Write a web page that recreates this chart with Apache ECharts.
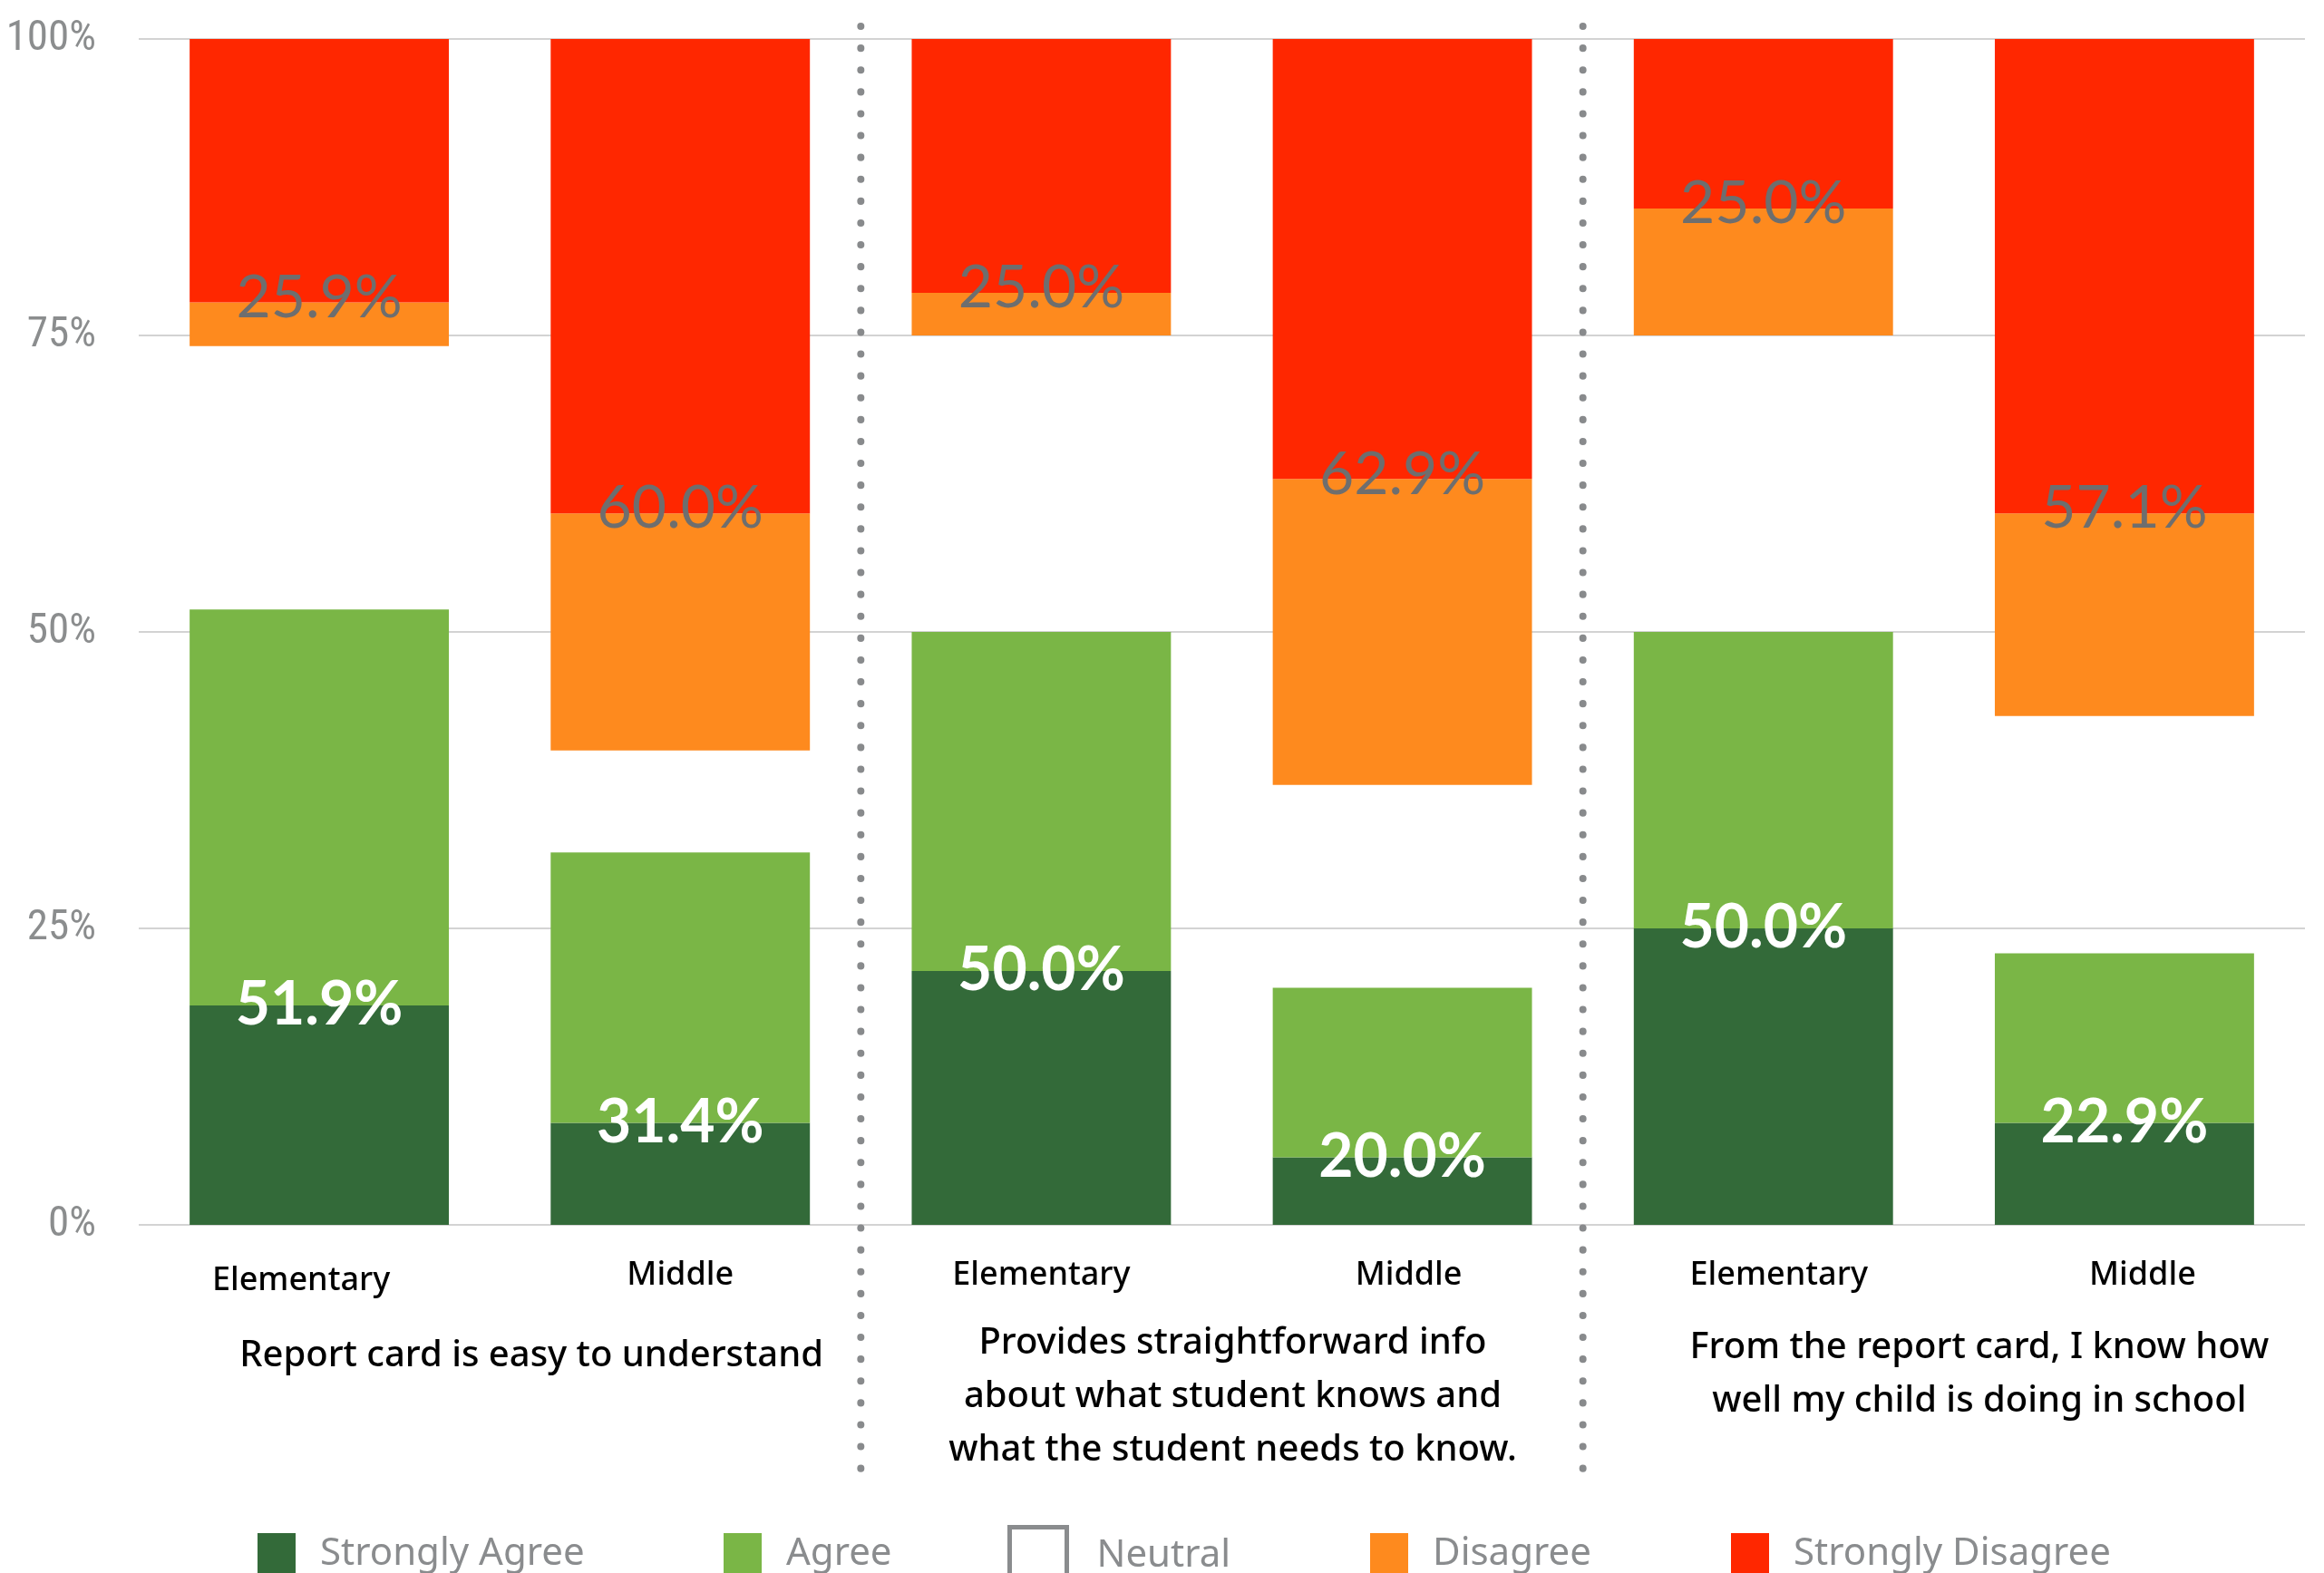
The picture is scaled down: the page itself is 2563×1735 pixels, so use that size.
<!DOCTYPE html>
<html>
<head>
<meta charset="utf-8">
<script src="https://cdn.jsdelivr.net/npm/echarts@6/dist/echarts.min.js"></script>
<style>
html,body{margin:0;padding:0;background:#fff;}
#chart{width:2563px;height:1735px;}
</style>
</head>
<body>
<div id="chart"></div>
<script>
// ---- data ----
var categories = ['Elementary', 'Middle', 'Elementary', 'Middle', 'Elementary', 'Middle'];
var groupTitles = [
  'Report card is easy to understand',
  'Provides straightforward info\nabout what student knows and\nwhat the student needs to know.',
  'From the report card, I know how\nwell my child is doing in school'
];
var seriesNames = ['Strongly Agree', 'Agree', 'Neutral', 'Disagree', 'Strongly Disagree'];
var stronglyAgree    = [18.5,  8.6, 21.4,  5.7, 25.0,  8.6];
var agree            = [33.4, 22.8, 28.6, 14.3, 25.0, 14.3];
var neutral          = [22.2,  8.6, 25.0, 17.1, 25.0, 20.0];
var disagree         = [ 3.7, 20.0,  3.6, 25.8, 10.7, 17.1];
var stronglyDisagree = [22.2, 40.0, 21.4, 37.1, 14.3, 40.0];
var yTicks = [0, 25, 50, 75, 100];

// ---- styles ----
var colors = ['#336a39', '#7ab646', 'rgba(0,0,0,0)', '#fe8a1e', '#ff2700'];
var catLabelPadding = [[6, 40, 0, 0], [0, 0, 0, 0], [0, 0, 0, 0], [0, 0, 0, 14], [0, 0, 0, 34], [0, 0, 0, 40]];
var legendLeft = [279, 793, 1106, 1506, 1904];
var titleShift = [35, 12, 39];
var titleTop = [1466, 1452, 1457];

var chart = echarts.init(document.getElementById('chart'));

function agreeTotal(i) { return (stronglyAgree[i] + agree[i]).toFixed(1) + '%'; }
function disagreeTotal(i) { return (disagree[i] + stronglyDisagree[i]).toFixed(1) + '%'; }

var legends = seriesNames.map(function (name, i) {
  var isNeutral = i === 2;
  return {
    left: legendLeft[i], top: isNeutral ? 1677 : 1686,
    itemWidth: isNeutral ? 63 : 42, itemHeight: isNeutral ? 63 : 46,
    icon: 'rect', selectedMode: false,
    textStyle: { fontFamily: 'Noto Sans', fontSize: 42, color: '#8a8c8e', padding: [0, 0, 0, isNeutral ? 28 : 22] },
    data: [isNeutral
      ? { name: name, itemStyle: { color: '#ffffff', borderColor: '#8a8c8e', borderWidth: 5 } }
      : { name: name }]
  };
});

var option = {
  backgroundColor: '#ffffff',
  animation: false,
  grid: { left: 153, right: 21, top: 43, bottom: 384, containLabel: false, outerBoundsMode: 'none' },
  legend: legends,
  xAxis: {
    type: 'category',
    data: categories.map(function (c, i) { return { value: c, textStyle: { padding: catLabelPadding[i] } }; }),
    axisLine: { show: false },
    axisTick: { show: false },
    axisLabel: { margin: 38, fontFamily: 'Noto Sans', fontSize: 36, fontWeight: 500, color: '#000' }
  },
  yAxis: {
    type: 'value', min: yTicks[0], max: yTicks[yTicks.length - 1], interval: 25,
    axisLine: { show: false }, axisTick: { show: false },
    axisLabel: {
      margin: 47, formatter: '{value}%', padding: [0, 0, 18, 0],
      fontStyle: 'condensed', fontFamily: "Roboto",
      fontSize: 47, color: '#8b8d8e'
    },
    splitLine: { lineStyle: { color: '#d3d3d3', width: 2 } }
  },
  series: seriesNames.map(function (name, i) {
    var s = {
      name: name, type: 'bar', stack: 'all', barWidth: '71.8%',
      itemStyle: { color: colors[i] },
      data: [stronglyAgree, agree, neutral, disagree, stronglyDisagree][i]
    };
    if (i === 0) {
      s.label = {
        show: true, position: ['50%', 0], align: 'center', verticalAlign: 'middle', offset: [0, 0],
        formatter: function (p) { return agreeTotal(p.dataIndex); },
        fontFamily: 'Lato', fontSize: 66, fontWeight: 'bold', color: '#ffffff'
      };
    }
    if (i === 3) {
      s.label = {
        show: true, position: ['50%', 0], align: 'center', verticalAlign: 'middle', offset: [0, -5],
        formatter: function (p) { return disagreeTotal(p.dataIndex); },
        fontFamily: 'Lato', fontSize: 66, fontWeight: 'normal', color: '#6e6e6e'
      };
    }
    return s;
  })
};
chart.setOption(option);

// decorations positioned through the axis scale
var graphics = [];
function px(i) { return chart.convertToPixel({ xAxisIndex: 0 }, i); }
for (var g = 1; g < 3; g++) {
  var xs = (px(2 * g - 1) + px(2 * g)) / 2;
  graphics.push({
    type: 'line', z: 10,
    shape: { x1: xs, y1: 29, x2: xs, y2: 1630 },
    style: { stroke: '#888a8c', lineWidth: 8, lineDash: [0.1, 24], lineCap: 'round' }
  });
}
for (var t = 0; t < 3; t++) {
  var cx = (px(2 * t) + px(2 * t + 1)) / 2 + titleShift[t];
  graphics.push({
    type: 'text', x: cx, y: titleTop[t],
    style: {
      text: groupTitles[t], align: 'center', verticalAlign: 'top',
      fontFamily: 'Noto Sans', fontSize: 40, fontWeight: 500, lineHeight: 59, fill: '#000'
    }
  });
}
chart.setOption({ graphic: graphics });
</script>
</body>
</html>
